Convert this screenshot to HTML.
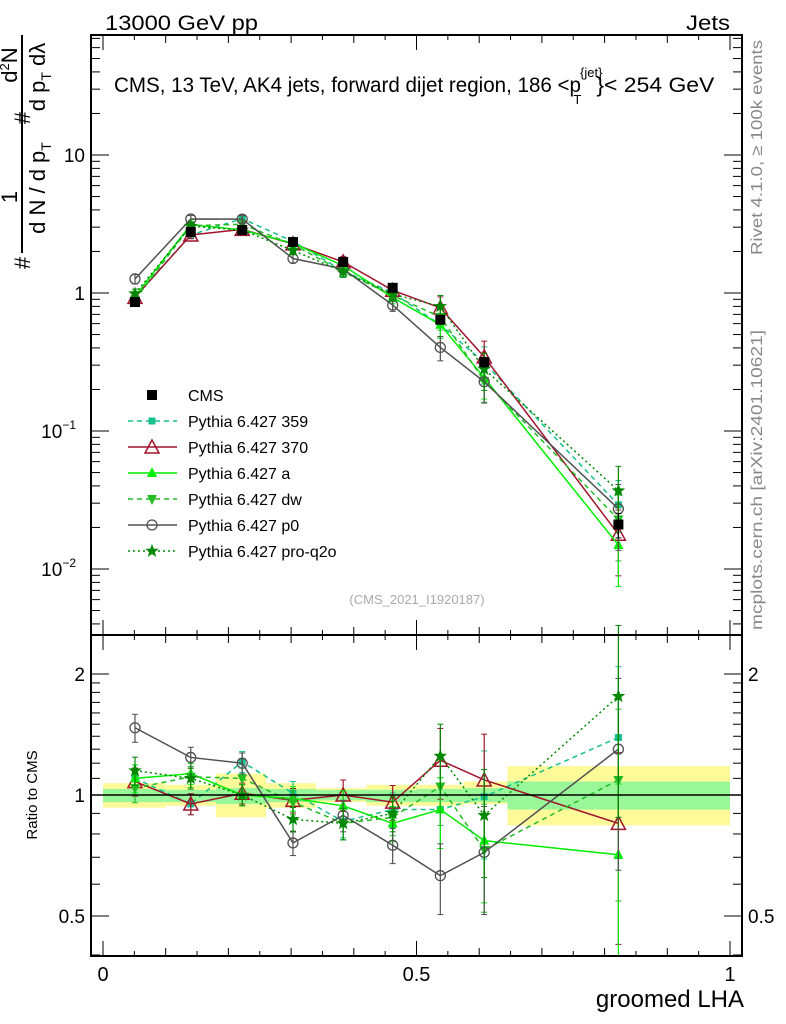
<!DOCTYPE html>
<html><head><meta charset="utf-8"><style>
body{margin:0;background:#fff}
svg{display:block;font-family:"Liberation Sans",sans-serif}
</style></head><body>
<svg id="c" width="786" height="1024" viewBox="0 0 786 1024">
<g id="bands"></g>
<g id="grid"></g>
<g id="marks"></g>
<g id="axes"></g>
<text x="105" y="30" font-size="21" textLength="153" lengthAdjust="spacingAndGlyphs">13000 GeV pp</text>
<text x="686" y="30" font-size="21" textLength="44" lengthAdjust="spacingAndGlyphs">Jets</text>
<text x="114" y="92" font-size="21"><tspan textLength="467" lengthAdjust="spacingAndGlyphs">CMS, 13 TeV, AK4 jets, forward dijet region, 186 &lt;p</tspan><tspan font-size="13" dy="-15" dx="-1">{jet}</tspan><tspan font-size="13" dx="-29" dy="27">T</tspan><tspan dy="-12" dx="15" textLength="118" lengthAdjust="spacingAndGlyphs">}&lt; 254 GeV</tspan></text>
<text transform="translate(762,255) rotate(-90)" font-size="16" fill="#888" textLength="215" lengthAdjust="spacingAndGlyphs">Rivet 4.1.0, ≥ 100k events</text>
<text transform="translate(762,630) rotate(-90)" font-size="16" fill="#888" textLength="300" lengthAdjust="spacingAndGlyphs">mcplots.cern.ch [arXiv:2401.10621]</text>
<text x="417" y="604" font-size="13" fill="#aaa" text-anchor="middle">(CMS_2021_I1920187)</text>
<g font-size="22">
<line x1="22" y1="35" x2="22" y2="253" stroke="#000" stroke-width="2"/>
<text transform="translate(17,197) rotate(-90)" text-anchor="middle">1</text>
<text transform="translate(17,65) rotate(-90)" text-anchor="middle">d<tspan font-size="13" dy="-8">2</tspan><tspan dy="8">N</tspan></text>
<text transform="translate(45,188) rotate(-90)" text-anchor="middle">d N / d p<tspan font-size="14" dy="6">T</tspan></text>
<text transform="translate(45,77) rotate(-90)" text-anchor="middle">d p<tspan font-size="14" dy="6">T</tspan><tspan dy="-6"> dλ</tspan></text>
<text transform="translate(30,118) rotate(-90)" text-anchor="middle">#</text>
<text transform="translate(30,263) rotate(-90)" text-anchor="middle">#</text>
</g>
<text transform="translate(37,795) rotate(-90)" font-size="15" text-anchor="middle">Ratio to CMS</text>
<text x="744" y="1007" font-size="24" text-anchor="end">groomed LHA</text>
<g id="legend"></g>
</svg>
<script>
const xs=[0.051,0.14,0.222,0.303,0.383,0.462,0.538,0.608,0.822];
const cms=[0.86,2.77,2.86,2.34,1.68,1.09,0.64,0.316,0.021];
const cmsErr=[0.04,0.05,0.05,0.05,0.05,0.05,0.06,0.08,0.2];
const binEdges=[0,0.1,0.18,0.26,0.34,0.42,0.5,0.575,0.645,1];
const bandYellowHi=[1.07,1.06,1.13,1.07,1.04,1.06,1.06,1.08,1.18];
const bandYellowLo=[0.93,0.94,0.88,0.93,0.96,0.94,0.94,0.95,0.84];
const bandGreenHi=[1.035,1.03,1.04,1.035,1.03,1.03,1.035,1.04,1.08];
const bandGreenLo=[0.96,0.96,0.95,0.96,0.97,0.96,0.96,0.96,0.92];
const r359=[1.10,0.95,1.21,1.01,0.86,0.92,0.92,0.99,1.39];
const r370=[1.08,0.95,1.01,0.97,1.00,0.96,1.22,1.09,0.85];
const rA=[1.10,1.13,1.00,0.98,0.94,0.85,0.92,0.77,0.71];
const rDW=[1.04,1.11,1.10,0.96,0.85,0.88,1.05,0.73,1.09];
const rP0=[1.47,1.24,1.20,0.76,0.89,0.75,0.63,0.72,1.30];
const rQ2O=[1.15,1.10,1.00,0.87,0.85,0.90,1.25,0.89,1.76];
const relErr=[0.08,0.06,0.06,0.07,0.09,0.1,0.2,0.3,0.5];
const series=[
 {name:'Pythia 6.427 359',key:'p359',r:r359,col:'#16c08a',dash:'5,4',m:'sq'},
 {name:'Pythia 6.427 370',key:'p370',r:r370,col:'#a0142c',dash:'',m:'tri'},
 {name:'Pythia 6.427 a',key:'pa',r:rA,col:'#00ee00',dash:'',m:'trif'},
 {name:'Pythia 6.427 dw',key:'pdw',r:rDW,col:'#22bb22',dash:'5,4',m:'tridn'},
 {name:'Pythia 6.427 p0',key:'pp0',r:rP0,col:'#505050',dash:'',m:'circ'},
 {name:'Pythia 6.427 pro-q2o',key:'pq2o',r:rQ2O,col:'#008800',dash:'2,3',m:'star'}];
const L=91,R=742,T=35,MB=635,B=956;
const X=v=>103+627*v;
const Y=v=>293-138*Math.log10(v);
const YR=v=>795-402*Math.log10(v);
const NS='http://www.w3.org/2000/svg';
function mk(p,t,a){const e=document.createElementNS(NS,t);for(const k in a)e.setAttribute(k,a[k]);p.appendChild(e);return e;}
const bands=document.getElementById('bands'),marks=document.getElementById('marks'),axes=document.getElementById('axes'),leg=document.getElementById('legend');
for(let i=0;i<binEdges.length-1;i++){
 const x0=X(binEdges[i]),x1=X(binEdges[i+1]);
 const y=mk(bands,'rect',{x:x0,y:YR(bandYellowHi[i]),width:x1-x0,height:YR(bandYellowLo[i])-YR(bandYellowHi[i]),fill:'#fdfa9a'});
 
 
 const g=mk(bands,'rect',{x:x0,y:YR(bandGreenHi[i]),width:x1-x0,height:YR(bandGreenLo[i])-YR(bandGreenHi[i]),fill:'#99f799'});
 
 
}
mk(axes,'line',{x1:L,y1:YR(1),x2:R,y2:YR(1),stroke:'#000','stroke-width':1.5});
function marker(p,m,x,y,col){
 let e;
 if(m==='sq')e=mk(p,'rect',{x:x-3.5,y:y-3.5,width:7,height:7,fill:col});
 else if(m==='blk')e=mk(p,'rect',{x:x-5,y:y-5,width:10,height:10,fill:'#000'});
 else if(m==='tri')e=mk(p,'path',{d:`M${x},${y-7}L${x+7},${y+6}L${x-7},${y+6}Z`,fill:'none',stroke:col,'stroke-width':1.5});
 else if(m==='trif')e=mk(p,'path',{d:`M${x},${y-6}L${x+5},${y+4}L${x-5},${y+4}Z`,fill:col});
 else if(m==='tridn')e=mk(p,'path',{d:`M${x},${y+6}L${x+5},${y-4}L${x-5},${y-4}Z`,fill:col});
 else if(m==='circ')e=mk(p,'circle',{cx:x,cy:y,r:5,fill:'none',stroke:col,'stroke-width':1.3});
 else {let d='';for(let k=0;k<10;k++){const a=-Math.PI/2+k*Math.PI/5,rr=k%2?2.5:6;d+=(k?'L':'M')+(x+rr*Math.cos(a)).toFixed(1)+','+(y+rr*Math.sin(a)).toFixed(1);}e=mk(p,'path',{d:d+'Z',fill:col,stroke:col,'stroke-width':0.8});}
 return e;
}
function errbar(p,x,y1,y2,col){mk(p,'line',{x1:x,y1:y1,x2:x,y2:y2,stroke:col,'stroke-width':1.2});mk(p,'line',{x1:x-3,y1:y1,x2:x+3,y2:y1,stroke:col});mk(p,'line',{x1:x-3,y1:y2,x2:x+3,y2:y2,stroke:col});}
series.forEach(s=>{
 const g=mk(marks,'g',{});
 
 
 const vals=xs.map((x,i)=>cms[i]*s.r[i]);
 mk(g,'polyline',{points:xs.map((x,i)=>X(x)+','+Y(vals[i])).join(' '),fill:'none',stroke:s.col,'stroke-width':1.5,'stroke-dasharray':s.dash});
 mk(g,'polyline',{points:xs.map((x,i)=>X(x)+','+YR(s.r[i])).join(' '),fill:'none',stroke:s.col,'stroke-width':1.5,'stroke-dasharray':s.dash});
 xs.forEach((x,i)=>{
  const e=relErr[i];
  errbar(g,X(x),Y(vals[i]*(1+e)),Y(vals[i]*Math.max(0.3,1-e)),s.col);
  errbar(g,X(x),Math.max(T+2,YR(s.r[i]*(1+e))),Math.min(B,YR(s.r[i]*Math.max(0.2,1-e))),s.col);
  const m1=marker(g,s.m,X(x),Y(vals[i]),s.col);
  
  
  const m2=marker(g,s.m,X(x),YR(s.r[i]),s.col);
  
  
 });
});
const cg=mk(marks,'g',{});


xs.forEach((x,i)=>{
 errbar(cg,X(x),Y(cms[i]*(1+cmsErr[i])),Y(cms[i]*(1-cmsErr[i])),'#000');
 const m=marker(cg,'blk',X(x),Y(cms[i]),'#000');
 
 
});
mk(axes,'rect',{x:L,y:T,width:R-L,height:MB-T,fill:'none',stroke:'#000','stroke-width':2});
mk(axes,'rect',{x:L,y:MB,width:R-L,height:B-MB,fill:'none',stroke:'#000','stroke-width':2});
for(let k=0;k<=20;k++){const v=k*0.05,x=X(v),len=k%10===0?15:(k%2===0?8:5);
 [MB,B].forEach(yb=>{mk(axes,'line',{x1:x,y1:yb,x2:x,y2:yb-len,stroke:'#000'});});
 mk(axes,'line',{x1:x,y1:T,x2:x,y2:T+len,stroke:'#000'});
 mk(axes,'line',{x1:x,y1:MB,x2:x,y2:MB+len,stroke:'#000'});
}
[0,0.5,1].forEach(v=>{const t=mk(axes,'text',{x:X(v),y:981,'font-size':20,'text-anchor':'middle'});t.textContent=String(v);
 
 });
for(let d=-3;d<=1;d++)for(let m=1;m<10;m++){const v=m*Math.pow(10,d),y=Y(v);if(y<T||y>MB)continue;const len=m===1?18:9;
 mk(axes,'line',{x1:L,y1:y,x2:L+len,y2:y,stroke:'#000'});mk(axes,'line',{x1:R,y1:y,x2:R-len,y2:y,stroke:'#000'});}
const ylab=[[10,'10'],[1,'1'],[0.1,'10<tspan font-size="12" dy="-9">−1</tspan>'],[0.01,'10<tspan font-size="12" dy="-9">−2</tspan>']];
ylab.forEach(([v,s])=>{const t=mk(axes,'text',{x:85,y:Y(v)+7,'font-size':19,'text-anchor':'end'});t.innerHTML=s;
 if(v<1)t.setAttribute('x',76);
 
 });
[0.4,0.5,0.6,0.7,0.8,0.9,1,2].concat([1.1,1.2,1.3,1.4,1.5,1.6,1.7,1.8,1.9]).forEach(v=>{const y=YR(v);if(y<MB||y>B)return;const len=(v===0.5||v===1||v===2)?18:9;
 mk(axes,'line',{x1:L,y1:y,x2:L+len,y2:y,stroke:'#000'});mk(axes,'line',{x1:R,y1:y,x2:R-len,y2:y,stroke:'#000'});});
[[2,'2'],[1,'1'],[0.5,'0.5']].forEach(([v,s])=>{const t=mk(axes,'text',{x:85,y:YR(v)+7,'font-size':19,'text-anchor':'end'});t.textContent=s;
 
 
 if(v!==1){const t2=mk(axes,'text',{x:748,y:YR(v)+7,'font-size':19});t2.textContent=s;
 
 }});
const lg=[{name:'CMS',m:'blk',col:'#000'}].concat(series);
lg.forEach((s,i)=>{const y=395+26*i;const g=mk(leg,'g',{});
 
 
 if(i>0)mk(g,'line',{x1:128,y1:y,x2:177,y2:y,stroke:s.col,'stroke-width':1.5,'stroke-dasharray':s.dash});
 marker(g,s.m==='blk'?'blk':s.m,152,y,s.col);
 const t=mk(g,'text',{x:188,y:y+6,'font-size':16});t.textContent=s.name;});
</script>
</body></html>
